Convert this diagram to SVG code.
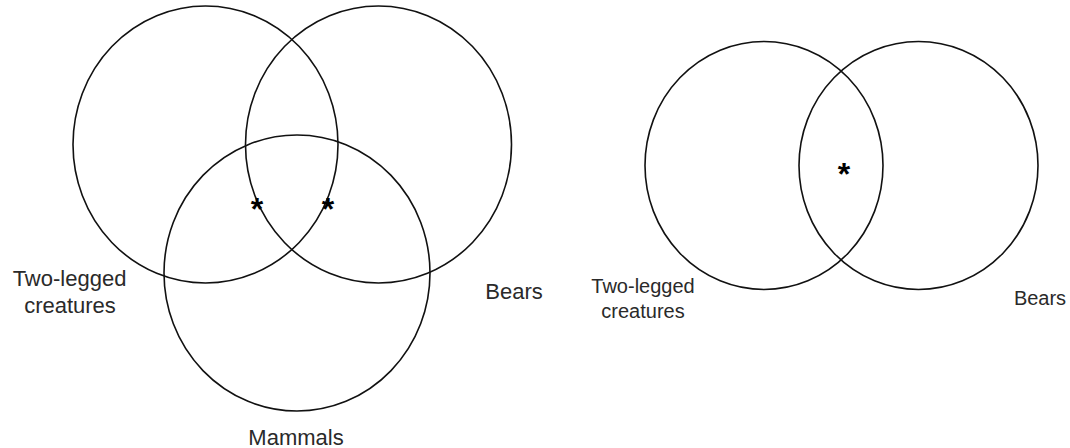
<svg xmlns="http://www.w3.org/2000/svg" width="1070" height="448" viewBox="0 0 1070 448">
<style>
.c{fill:none;stroke:#111;stroke-width:1.6}
.t{font-family:"Liberation Sans",Arial,sans-serif;fill:#2a2a2a;text-anchor:middle}
.s{font-family:"Liberation Sans",Arial,sans-serif;fill:#000;font-weight:bold;font-size:32px;text-anchor:middle}
</style>
<rect width="1070" height="448" fill="#fff"/>
<g id="left-two-legged"><ellipse class="c" cx="205.5" cy="144.5" rx="132.5" ry="138.5"/></g>
<g id="left-bears"><ellipse class="c" cx="378.5" cy="144.5" rx="133" ry="138.5"/></g>
<g id="left-mammals"><ellipse class="c" cx="297" cy="273" rx="133" ry="138"/></g>
<g id="right-two-legged"><ellipse class="c" cx="764" cy="165.5" rx="119" ry="124"/></g>
<g id="right-bears"><ellipse class="c" cx="918.5" cy="165.5" rx="119.5" ry="124"/></g>
<g id="labels">
<text class="t" x="69.5" y="286" font-size="22">Two-legged</text>
<text class="t" x="70" y="313" font-size="22">creatures</text>
<text class="t" x="514" y="299" font-size="22">Bears</text>
<text class="t" x="296" y="445" font-size="22">Mammals</text>
<text class="t" x="643" y="293" font-size="20">Two-legged</text>
<text class="t" x="643" y="318" font-size="20">creatures</text>
<text class="t" x="1040" y="305" font-size="20">Bears</text>
</g>
<g id="stars">
<text class="s" x="257" y="220">*</text>
<text class="s" x="328" y="220">*</text>
<text class="s" x="844" y="185">*</text>
</g>
<g id="connectors"/>
</svg>
